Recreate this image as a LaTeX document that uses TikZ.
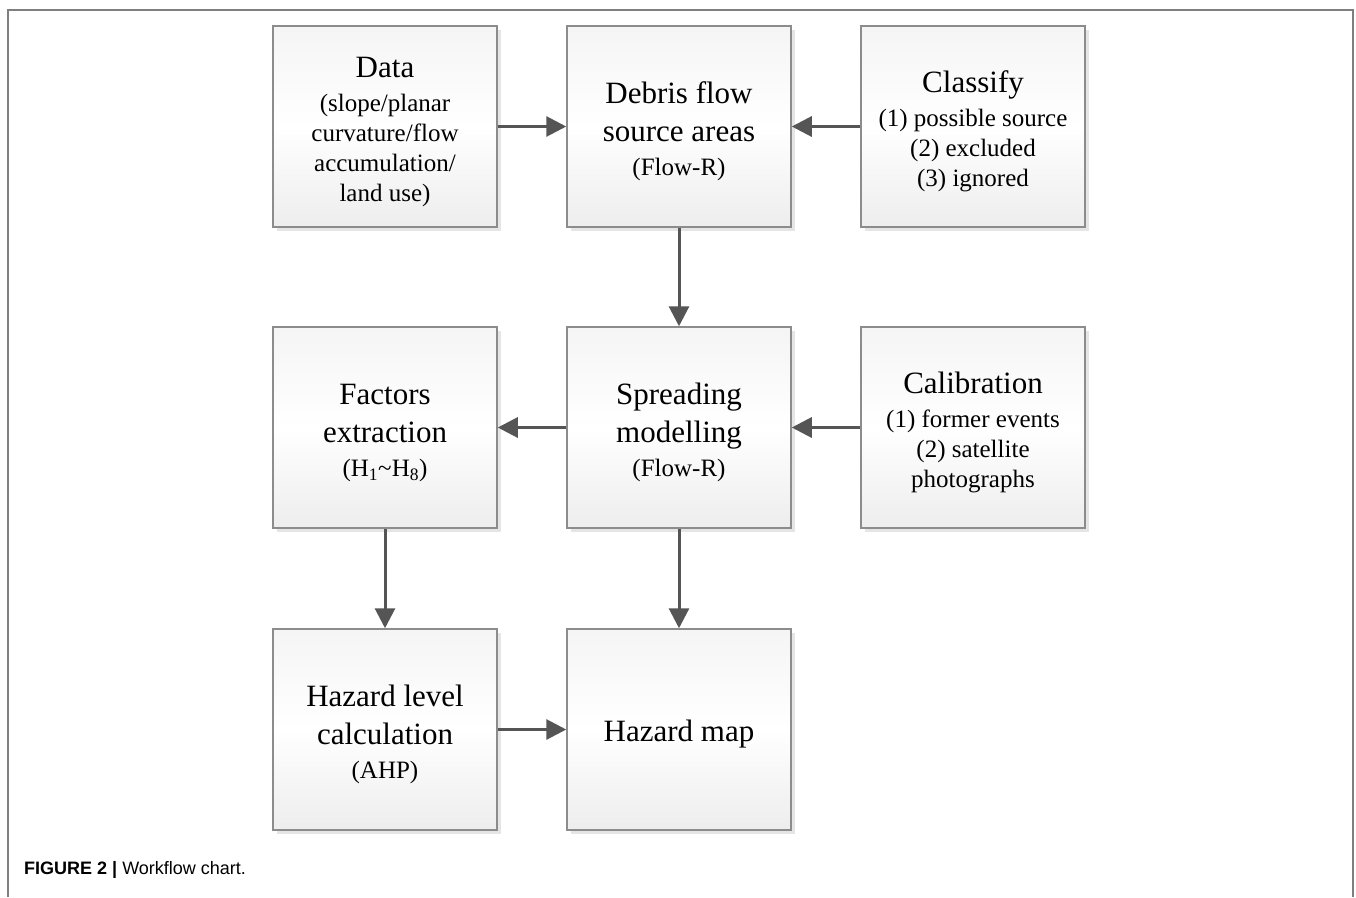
\documentclass[tikz,border=0pt]{standalone}
\usepackage{fontspec}
\setmainfont{Liberation Serif}
\newfontfamily\captionfont{Liberation Sans}
\usepackage{xcolor}
\usepackage{tikz}
\usetikzlibrary{arrows.meta, shadows}

\definecolor{boxline}{HTML}{8C8C8C}
\definecolor{arrowgray}{HTML}{555555}
\definecolor{framegray}{HTML}{7F7F7F}
\newcommand{\titlefont}{\fontsize{31}{38}\selectfont}
\newcommand{\detailfont}{\fontsize{25}{30}\selectfont}
\newcommand{\headroom}{\rule{0pt}{31pt}}

\begin{document}
\begin{tikzpicture}[x=1pt,y=-1pt,
  stepbox/.style={draw=boxline, line width=1.5pt, minimum width=224pt, minimum height=201pt,
    inner sep=0pt, align=center, font=\titlefont,
    top color=gray!8, bottom color=gray!14, middle color=white,
    drop shadow={shadow xshift=4pt, shadow yshift=-4pt, fill=black!10, opacity=1}},
  flow/.style={-{Triangle[length=20pt,width=20pt]}, draw=arrowgray, line width=3pt}]
\useasboundingbox (0,0) rectangle (1356,897);
%\draw[step=50,gray,very thin] (0,0) grid (1356,897);
\draw[framegray, line width=2pt] (8,897) -- (8,9.5) -- (1353,9.5) -- (1353,897);

\node[stepbox] (data) at (385,126.5) {\headroom Data\\[-4pt]\detailfont (slope/planar\\[-8pt]\detailfont curvature/flow\\[-8pt]\detailfont accumulation/\\[-8pt]\detailfont land use)};
\node[stepbox] (source) at (679,126.5) {\headroom Debris flow\\source areas\\[-4pt]\detailfont (Flow-R)};
\node[stepbox] (classify) at (973,126.5) {\headroom Classify\\[-4pt]\detailfont (1) possible source\\[-8pt]\detailfont (2) excluded\\[-8pt]\detailfont (3) ignored};
\node[stepbox] (factors) at (385,427.5) {\headroom Factors\\extraction\\[-4pt]\detailfont (H\textsubscript{1}\textasciitilde H\textsubscript{8})};
\node[stepbox] (spread) at (679,427.5) {\headroom Spreading\\modelling\\[-4pt]\detailfont (Flow-R)};
\node[stepbox] (calib) at (973,427.5) {\headroom Calibration\\[-4pt]\detailfont (1) former events\\[-8pt]\detailfont (2) satellite\\[-8pt]\detailfont photographs};
\node[stepbox] (level) at (385,729.5) {\headroom Hazard level\\calculation\\[-4pt]\detailfont (AHP)};
\node[stepbox] (hmap) at (679,729.5) {\headroom Hazard map};

\draw[flow] (data) -- (source);
\draw[flow] (classify) -- (source);
\draw[flow] (source) -- (spread);
\draw[flow] (spread) -- (factors);
\draw[flow] (calib) -- (spread);
\draw[flow] (factors) -- (level);
\draw[flow] (spread) -- (hmap);
\draw[flow] (level) -- (hmap);

\node[anchor=base west, inner sep=0pt, font=\captionfont\fontsize{18}{22}\selectfont] (caption) at (24,874) {\textbf{FIGURE 2 |} Workflow chart.};
\end{tikzpicture}
\end{document}
